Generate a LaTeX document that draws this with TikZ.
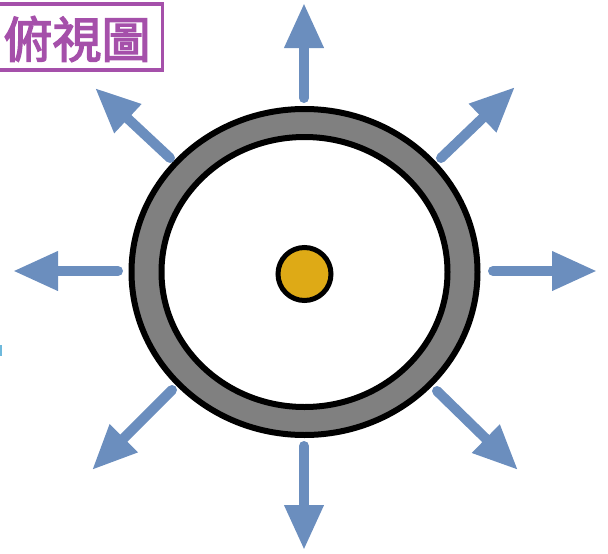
\documentclass[tikz,border=0pt]{standalone}
\usepackage{fontspec}
\newfontfamily\cjk[FakeBold=3]{Noto Sans CJK TC}
\usetikzlibrary{arrows.meta,shapes.geometric}
\definecolor{arrowblue}{RGB}{107,142,190}
\definecolor{ringgray}{RGB}{128,128,128}
\definecolor{gold}{RGB}{222,170,22}
\definecolor{labelpurple}{RGB}{165,80,170}
\definecolor{sliver}{RGB}{110,185,220}
\tikzset{
  outarrow/.style={draw=arrowblue, line width=10pt, line cap=round,
    -{Triangle[length=45pt,width=37pt]}},
  ringshape/.style={draw=black, line width=6pt, ellipse, inner sep=0pt},
}
\begin{document}
\begin{tikzpicture}[x=1pt,y=-1pt]
\useasboundingbox (0,0) rectangle (608,554);
\clip (0,0) rectangle (608,554);
% ring
\node[ringshape, fill=ringgray, minimum width=346pt, minimum height=326pt] (outer) at (304.5,272) {};
\node[ringshape, fill=white, minimum width=286pt, minimum height=270pt] (inner) at (304.5,272) {};
% centre dot
\node[draw=black, line width=5pt, fill=gold, circle, minimum size=53pt, inner sep=0pt] (dot) at (304.5,274) {};
% arrow coordinates
\coordinate (s1) at (304,98);  \coordinate (t1) at (304,3);
\coordinate (s2) at (304,446); \coordinate (t2) at (304,550);
\coordinate (s3) at (118,271); \coordinate (t3) at (13,271);
\coordinate (s4) at (493,271); \coordinate (t4) at (597,271);
\coordinate (s5) at (441,158); \coordinate (t5) at (515,87);
\coordinate (s6) at (170,158); \coordinate (t6) at (95,88);
\coordinate (s7) at (172,390); \coordinate (t7) at (92,470);
\coordinate (s8) at (437,391); \coordinate (t8) at (518,470);
\foreach \i in {1,...,8} {\draw[outarrow] (s\i) -- (t\i);}
% label
\node[draw=labelpurple, line width=3.5pt, minimum width=175pt, minimum height=66pt, inner sep=0pt] (labelbox) at (75,37) {};
\node[text=labelpurple, font=\cjk\fontsize{49}{49}\selectfont, inner sep=0pt] (label) at (77,39) {俯視圖};
% small sliver at left edge
\fill[sliver] (0,345) rectangle (2,356);
\end{tikzpicture}
\end{document}
